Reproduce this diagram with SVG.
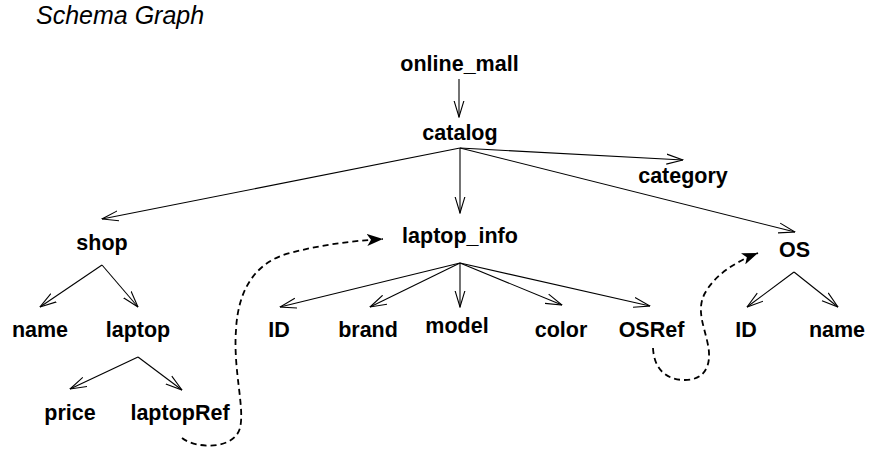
<svg xmlns="http://www.w3.org/2000/svg" width="869" height="450" viewBox="0 0 869 450">
  <style>
    .lbl { font-family: "Liberation Sans", Arial, sans-serif; font-weight: bold; font-size: 21.5px; fill: #000; text-anchor: middle; }
    .title { font-family: "Liberation Sans", Arial, sans-serif; font-style: italic; font-size: 25px; fill: #000; }
    .edge { fill: none; stroke: #000; stroke-width: 1.1; marker-end: url(#open); }
    .ref { fill: none; stroke: #000; stroke-width: 1.8; stroke-dasharray: 6 4; marker-end: url(#solid); }
  </style>
  <defs>
    <marker id="open" viewBox="0 0 17 12" refX="16.5" refY="6" markerWidth="17" markerHeight="12" markerUnits="userSpaceOnUse" orient="auto">
      <path d="M0,1 L16.5,6 L0,11" fill="none" stroke="#000" stroke-width="1.1"/>
    </marker>
    <marker id="solid" viewBox="0 0 16 12" refX="16" refY="6" markerWidth="16" markerHeight="12" markerUnits="userSpaceOnUse" orient="auto">
      <path d="M0,0 L16,6 L0,12 L4,6 Z" fill="#000"/>
    </marker>
  </defs>

  <rect width="869" height="450" fill="#fff"/>

  <text class="title" x="36" y="24">Schema Graph</text>

  <g id="connectors">
    <line class="edge" x1="459" y1="79" x2="459" y2="117"/>
    <line class="edge" x1="460" y1="148" x2="102" y2="219"/>
    <line class="edge" x1="460" y1="148" x2="460" y2="213"/>
    <line class="edge" x1="460" y1="148" x2="683" y2="160"/>
    <line class="edge" x1="460" y1="148" x2="795" y2="232"/>
    <line class="edge" x1="102" y1="265" x2="40" y2="307"/>
    <line class="edge" x1="102" y1="265" x2="138" y2="307"/>
    <line class="edge" x1="138" y1="357" x2="70" y2="389"/>
    <line class="edge" x1="138" y1="357" x2="182" y2="390"/>
    <line class="edge" x1="460" y1="263" x2="280" y2="307"/>
    <line class="edge" x1="460" y1="263" x2="370" y2="307"/>
    <line class="edge" x1="460" y1="263" x2="460" y2="307"/>
    <line class="edge" x1="460" y1="263" x2="562" y2="305"/>
    <line class="edge" x1="460" y1="263" x2="650" y2="306"/>
    <line class="edge" x1="794" y1="272" x2="747" y2="307"/>
    <line class="edge" x1="794" y1="272" x2="838" y2="307"/>
    <path class="ref" d="M182,438 C196,449 234,450 240,428 C245,408 233,370 236,330 C238,290 255,262 290,253 C320,245 350,241 383,239"/>
    <path class="ref" d="M653,348 C654,368 665,380 685,380 C705,380 712,365 708,345 C704,325 696,310 705,293 C715,275 735,262 758,253"/>
  </g>

  <g id="online_mall"><text class="lbl" x="459.5" y="71">online_mall</text></g>
  <g id="catalog"><text class="lbl" x="460" y="140">catalog</text></g>
  <g id="category"><text class="lbl" x="683" y="183">category</text></g>
  <g id="shop"><text class="lbl" x="102" y="250">shop</text></g>
  <g id="laptop_info"><text class="lbl" x="460" y="243">laptop_info</text></g>
  <g id="OS"><text class="lbl" x="794.5" y="257">OS</text></g>
  <g id="shop_name"><text class="lbl" x="40" y="337">name</text></g>
  <g id="laptop"><text class="lbl" x="138" y="337">laptop</text></g>
  <g id="price"><text class="lbl" x="70" y="420">price</text></g>
  <g id="laptopRef"><text class="lbl" x="180" y="420">laptopRef</text></g>
  <g id="info_ID"><text class="lbl" x="279" y="337">ID</text></g>
  <g id="brand"><text class="lbl" x="368" y="337">brand</text></g>
  <g id="model"><text class="lbl" x="457" y="333">model</text></g>
  <g id="color"><text class="lbl" x="561" y="337">color</text></g>
  <g id="OSRef"><text class="lbl" x="651.5" y="337">OSRef</text></g>
  <g id="os_ID"><text class="lbl" x="746" y="337">ID</text></g>
  <g id="os_name"><text class="lbl" x="837" y="337">name</text></g>
</svg>
